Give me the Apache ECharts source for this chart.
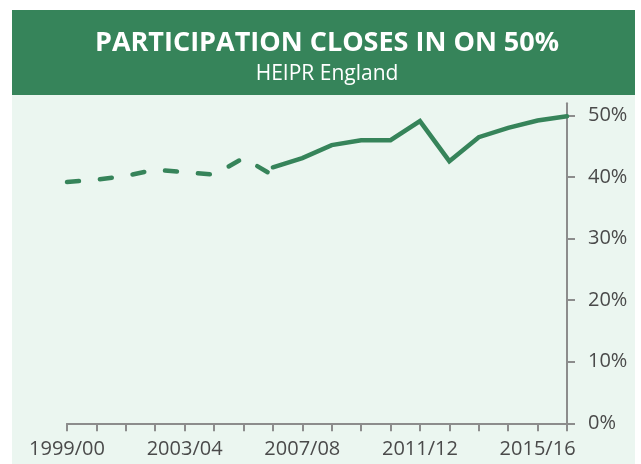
<!DOCTYPE html>
<html>
<head>
<meta charset="utf-8">
<script src="https://cdn.jsdelivr.net/npm/echarts@6/dist/echarts.min.js"></script>
<style>
html,body{margin:0;padding:0;background:#fff;}
#chart{width:641px;height:464px;}
</style>
</head>
<body>
<div id="chart"></div>
<script>
const categories = ['1999/00','2000/01','2001/02','2002/03','2003/04','2004/05','2005/06','2006/07','2007/08','2008/09','2009/10','2010/11','2011/12','2012/13','2013/14','2014/15','2015/16','2016/17'];
const oldMethod = [39.2, 39.6, 40.2, 41.2, 40.8, 40.4, 43.1, 40.3, null, null, null, null, null, null, null, null, null, null];
const newMethod = [null, null, null, null, null, null, null, 41.6, 43.1, 45.2, 46.0, 46.0, 49.1, 42.6, 46.5, 48.0, 49.2, 49.9];
const yTicks = [0, 10, 20, 30, 40, 50];
const titleText = 'PARTICIPATION CLOSES IN ON 50%';
const subtitleText = 'HEIPR England';

const GREEN = '#36845a';
const chart = echarts.init(document.getElementById('chart'));
chart.setOption({
  animation: false,
  backgroundColor: '#ffffff',
  graphic: [
    {type: 'rect', z: -10, shape: {x: 12, y: 10, width: 623, height: 85}, style: {fill: GREEN}},
    {type: 'rect', z: -10, shape: {x: 12, y: 95, width: 623, height: 369}, style: {fill: '#ebf6f0'}}
  ],
  title: {
    text: titleText,
    subtext: subtitleText,
    left: 322,
    textAlign: 'center',
    top: 25,
    itemGap: 7,
    textStyle: {fontFamily: 'Open Sans', fontWeight: 'bold', fontSize: 27, color: '#ffffff'},
    subtextStyle: {fontFamily: 'Open Sans', fontSize: 21, color: '#ffffff'}
  },
  grid: {left: 67, right: 74, top: 103.3, bottom: 40.7},
  xAxis: {
    type: 'category',
    data: categories,
    boundaryGap: false,
    axisLine: {lineStyle: {color: '#8c8c8c', width: 2}},
    axisTick: {show: true, interval: 0, length: 8, lineStyle: {color: '#8c8c8c', width: 2}},
    axisLabel: {interval: 3, margin: 16, fontFamily: 'Open Sans', fontSize: 20, color: '#4a4a4a'},
    splitLine: {show: false}
  },
  yAxis: {
    type: 'value',
    position: 'right',
    min: 0,
    max: 52,
    interval: 10,
    axisLine: {show: true, lineStyle: {color: '#8c8c8c', width: 2}},
    axisTick: {show: true, length: 8, lineStyle: {color: '#8c8c8c', width: 2}, customValues: yTicks},
    axisLabel: {margin: 21, fontFamily: 'Open Sans', fontSize: 20, color: '#4a4a4a', formatter: v => v + '%', customValues: yTicks},
    splitLine: {show: false}
  },
  series: [
    {
      type: 'line', data: oldMethod, showSymbol: false, connectNulls: false,
      lineStyle: {color: GREEN, width: 4.5, type: [12, 21], cap: 'round', join: 'round'}
    },
    {
      type: 'line', data: newMethod, showSymbol: false, connectNulls: false,
      lineStyle: {color: GREEN, width: 4.5, type: 'solid', cap: 'round', join: 'miter'}
    }
  ]
});
</script>
</body>
</html>
